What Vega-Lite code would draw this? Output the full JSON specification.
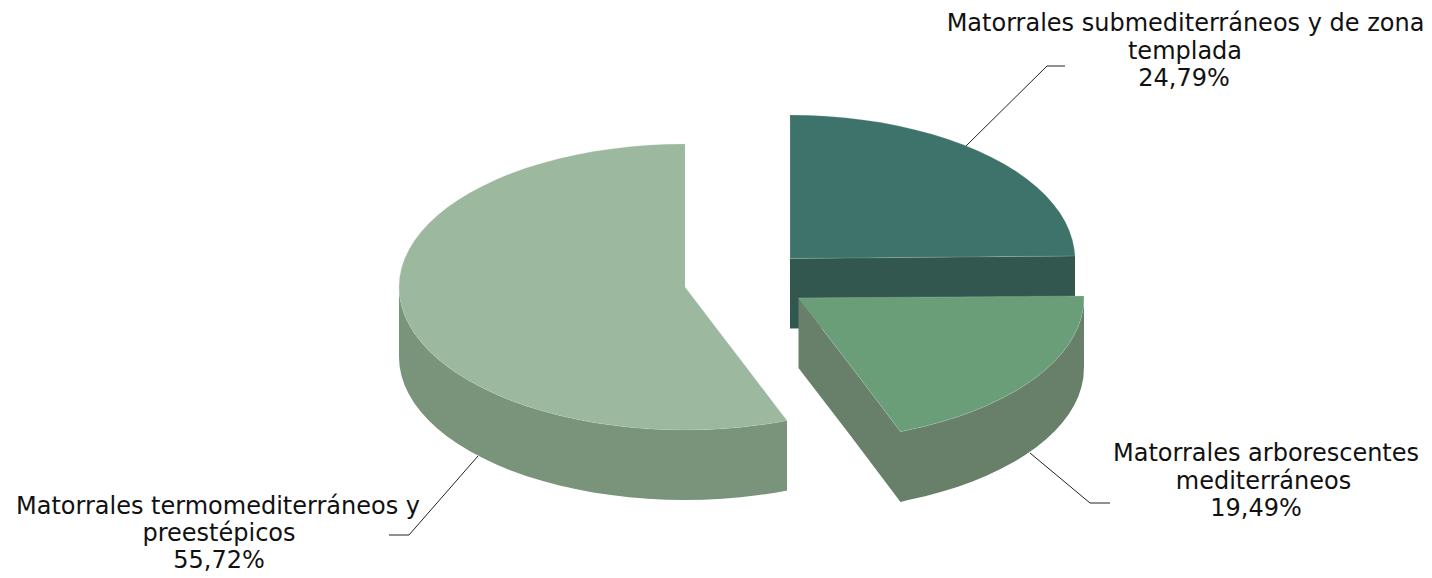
{"$schema":"https://vega.github.io/schema/vega-lite/v6.json","width":1432,"height":578,"autosize":{"type":"fit","contains":"padding"},"padding":0,"background":"white","view":{"stroke":null},
"encoding":{"x":{"field":"h","type":"quantitative","scale":{"domain":[0,1432],"nice":false,"zero":false},"axis":null},"y":{"field":"v","type":"quantitative","scale":{"domain":[578,0],"nice":false,"zero":false},"axis":null}},
"resolve":{"scale":{"color":"independent"}},
"layer":[
{"data":{"values":[
{"part":"s2","h":790,"v":258.5,"v2":328.5},{"part":"s2","h":1075,"v":256,"v2":326},
{"part":"s3","h":798.5,"v":298,"v2":368},{"part":"s3","h":850,"v":365,"v2":435},{"part":"s3","h":900.5,"v":431.7,"v2":502},{"part":"s3","h":908.1,"v":430.1,"v2":500.1},{"part":"s3","h":925.1,"v":426.3,"v2":496.3},{"part":"s3","h":941.5,"v":421.8,"v2":491.8},{"part":"s3","h":957.3,"v":416.9,"v2":486.9},{"part":"s3","h":972.5,"v":411.5,"v2":481.5},{"part":"s3","h":986.9,"v":405.5,"v2":475.5},{"part":"s3","h":1000.5,"v":399.1,"v2":469.1},{"part":"s3","h":1013.3,"v":392.3,"v2":462.3},{"part":"s3","h":1025.1,"v":385.1,"v2":455.1},{"part":"s3","h":1036,"v":377.4,"v2":447.4},{"part":"s3","h":1045.8,"v":369.5,"v2":439.5},{"part":"s3","h":1054.6,"v":361.2,"v2":431.2},{"part":"s3","h":1062.3,"v":352.7,"v2":422.7},{"part":"s3","h":1068.9,"v":344,"v2":414},{"part":"s3","h":1074.3,"v":335,"v2":405},{"part":"s3","h":1078.5,"v":325.9,"v2":395.9},{"part":"s3","h":1081.5,"v":316.7,"v2":386.7},{"part":"s3","h":1083.4,"v":307.4,"v2":377.4},{"part":"s3","h":1084,"v":296,"v2":366},
{"part":"s1","h":399,"v":287,"v2":357},{"part":"s1","h":399.6,"v":296.4,"v2":366.4},{"part":"s1","h":401.5,"v":305.7,"v2":375.7},{"part":"s1","h":404.5,"v":314.9,"v2":384.9},{"part":"s1","h":408.8,"v":324,"v2":394},{"part":"s1","h":414.2,"v":333,"v2":403},{"part":"s1","h":420.8,"v":341.7,"v2":411.7},{"part":"s1","h":428.5,"v":350.2,"v2":420.2},{"part":"s1","h":437.3,"v":358.5,"v2":428.5},{"part":"s1","h":447.2,"v":366.4,"v2":436.4},{"part":"s1","h":458.1,"v":374.1,"v2":444.1},{"part":"s1","h":470,"v":381.3,"v2":451.3},{"part":"s1","h":482.8,"v":388.1,"v2":458.1},{"part":"s1","h":496.4,"v":394.5,"v2":464.5},{"part":"s1","h":510.9,"v":400.5,"v2":470.5},{"part":"s1","h":526.1,"v":405.9,"v2":475.9},{"part":"s1","h":542,"v":410.8,"v2":480.8},{"part":"s1","h":558.5,"v":415.3,"v2":485.3},{"part":"s1","h":575.5,"v":419.1,"v2":489.1},{"part":"s1","h":593.1,"v":422.4,"v2":492.4},{"part":"s1","h":611,"v":425.1,"v2":495.1},{"part":"s1","h":629.2,"v":427.3,"v2":497.3},{"part":"s1","h":647.7,"v":428.8,"v2":498.8},{"part":"s1","h":666.3,"v":429.7,"v2":499.7},{"part":"s1","h":685,"v":430,"v2":500},{"part":"s1","h":703.7,"v":429.7,"v2":499.7},{"part":"s1","h":722.3,"v":428.8,"v2":498.8},{"part":"s1","h":740.8,"v":427.3,"v2":497.3},{"part":"s1","h":759,"v":425.1,"v2":495.1},{"part":"s1","h":776.9,"v":422.4,"v2":492.4},{"part":"s1","h":787,"v":420.6,"v2":490.6}
]},
"mark":{"type":"area","orient":"vertical","interpolate":"linear"},
"encoding":{"y2":{"field":"v2"},"color":{"field":"part","type":"nominal","legend":null,"scale":{"domain":["s1","s2","s3"],"range":["#7a937b","#32574f","#68806a"]}}}},
{"data":{"values":[
{"line":"a","h":966,"v":146},{"line":"a","h":1047,"v":66},{"line":"a","h":1065,"v":66},
{"line":"b","h":1030,"v":453},{"line":"b","h":1090,"v":503},{"line":"b","h":1110,"v":503},
{"line":"c","h":389,"v":535},{"line":"c","h":409,"v":535},{"line":"c","h":478,"v":456}
]},
"mark":{"type":"line","color":"#222222","strokeWidth":1},"encoding":{"detail":{"field":"line"}}},
{"data":{"values":[
{"part":"t2","h":790,"v":115,"v2":258.5},{"part":"t2","h":808.6,"v":115.3,"v2":258.3},{"part":"t2","h":827.2,"v":116.2,"v2":258.2},{"part":"t2","h":845.6,"v":117.8,"v2":258},{"part":"t2","h":863.8,"v":119.9,"v2":257.9},{"part":"t2","h":881.6,"v":122.6,"v2":257.7},{"part":"t2","h":899.1,"v":126,"v2":257.5},{"part":"t2","h":916.1,"v":129.9,"v2":257.4},{"part":"t2","h":932.5,"v":134.3,"v2":257.2},{"part":"t2","h":948.3,"v":139.3,"v2":257.1},{"part":"t2","h":963.5,"v":144.8,"v2":257},{"part":"t2","h":977.9,"v":150.7,"v2":256.9},{"part":"t2","h":991.5,"v":157.2,"v2":256.7},{"part":"t2","h":1004.3,"v":164.1,"v2":256.6},{"part":"t2","h":1016.1,"v":171.3,"v2":256.5},{"part":"t2","h":1027,"v":179,"v2":256.4},{"part":"t2","h":1036.8,"v":187,"v2":256.3},{"part":"t2","h":1045.6,"v":195.3,"v2":256.3},{"part":"t2","h":1053.3,"v":203.9,"v2":256.2},{"part":"t2","h":1059.9,"v":212.7,"v2":256.2},{"part":"t2","h":1065.3,"v":221.7,"v2":256.1},{"part":"t2","h":1069.5,"v":230.9,"v2":256},{"part":"t2","h":1072.5,"v":240.2,"v2":256},{"part":"t2","h":1074.4,"v":249.6,"v2":256},{"part":"t2","h":1075,"v":256,"v2":256},
{"part":"t3","h":798.5,"v":298,"v2":298},{"part":"t3","h":850,"v":297.6,"v2":365},{"part":"t3","h":900.5,"v":297.3,"v2":431.7},{"part":"t3","h":908.1,"v":297.2,"v2":430.1},{"part":"t3","h":925.1,"v":297.1,"v2":426.3},{"part":"t3","h":941.5,"v":297,"v2":421.8},{"part":"t3","h":957.3,"v":296.9,"v2":416.9},{"part":"t3","h":972.5,"v":296.8,"v2":411.5},{"part":"t3","h":986.9,"v":296.7,"v2":405.5},{"part":"t3","h":1000.5,"v":296.6,"v2":399.1},{"part":"t3","h":1013.3,"v":296.5,"v2":392.3},{"part":"t3","h":1025.1,"v":296.4,"v2":385.1},{"part":"t3","h":1036,"v":296.3,"v2":377.4},{"part":"t3","h":1045.8,"v":296.3,"v2":369.5},{"part":"t3","h":1054.6,"v":296.2,"v2":361.2},{"part":"t3","h":1062.3,"v":296.2,"v2":352.7},{"part":"t3","h":1068.9,"v":296.1,"v2":344},{"part":"t3","h":1074.3,"v":296.1,"v2":335},{"part":"t3","h":1078.5,"v":296,"v2":325.9},{"part":"t3","h":1081.5,"v":296,"v2":316.7},{"part":"t3","h":1083.4,"v":296,"v2":307.4},{"part":"t3","h":1084,"v":296,"v2":296},
{"part":"t1","h":399,"v":287,"v2":287},{"part":"t1","h":399.6,"v":277.6,"v2":296.4},{"part":"t1","h":401.5,"v":268.3,"v2":305.7},{"part":"t1","h":404.5,"v":259.1,"v2":314.9},{"part":"t1","h":408.8,"v":250,"v2":324},{"part":"t1","h":414.2,"v":241,"v2":333},{"part":"t1","h":420.8,"v":232.3,"v2":341.7},{"part":"t1","h":428.5,"v":223.8,"v2":350.2},{"part":"t1","h":437.3,"v":215.5,"v2":358.5},{"part":"t1","h":447.2,"v":207.6,"v2":366.4},{"part":"t1","h":458.1,"v":199.9,"v2":374.1},{"part":"t1","h":470,"v":192.7,"v2":381.3},{"part":"t1","h":482.8,"v":185.9,"v2":388.1},{"part":"t1","h":496.4,"v":179.5,"v2":394.5},{"part":"t1","h":510.9,"v":173.5,"v2":400.5},{"part":"t1","h":526.1,"v":168.1,"v2":405.9},{"part":"t1","h":542,"v":163.2,"v2":410.8},{"part":"t1","h":558.5,"v":158.7,"v2":415.3},{"part":"t1","h":575.5,"v":154.9,"v2":419.1},{"part":"t1","h":593.1,"v":151.6,"v2":422.4},{"part":"t1","h":611,"v":148.9,"v2":425.1},{"part":"t1","h":629.2,"v":146.7,"v2":427.3},{"part":"t1","h":647.7,"v":145.2,"v2":428.8},{"part":"t1","h":666.3,"v":144.3,"v2":429.7},{"part":"t1","h":685,"v":144,"v2":430},{"part":"t1","h":685.01,"v":287,"v2":430},{"part":"t1","h":703.7,"v":311.5,"v2":429.7},{"part":"t1","h":722.3,"v":335.9,"v2":428.8},{"part":"t1","h":740.8,"v":360.1,"v2":427.3},{"part":"t1","h":759,"v":383.9,"v2":425.1},{"part":"t1","h":776.9,"v":407.4,"v2":422.4},{"part":"t1","h":787,"v":420.6,"v2":420.6}
]},
"mark":{"type":"area","orient":"vertical","interpolate":"linear","strokeWidth":0.5,"stroke":"#c4d6c6","strokeOpacity":0.45},
"encoding":{"y2":{"field":"v2"},"color":{"field":"part","type":"nominal","legend":null,"scale":{"domain":["t1","t2","t3"],"range":["#9cb89e","#3e736b","#6a9e79"]}}}},
{"data":{"values":[
{"t":"Matorrales submediterráneos y de zona","h":1185.5,"v":31},{"t":"templada","h":1185,"v":59},{"t":"24,79%","h":1184,"v":86},
{"t":"Matorrales arborescentes","h":1266,"v":461},{"t":"mediterráneos","h":1263.5,"v":488.5},{"t":"19,49%","h":1256,"v":516},
{"t":"Matorrales termomediterráneos y","h":218,"v":514},{"t":"preestépicos","h":219,"v":541},{"t":"55,72%","h":219,"v":568}
]},
"mark":{"type":"text","font":"DejaVu Sans","fontSize":24,"align":"center","baseline":"alphabetic","color":"#111111"},"encoding":{"text":{"field":"t"}}}
]}
